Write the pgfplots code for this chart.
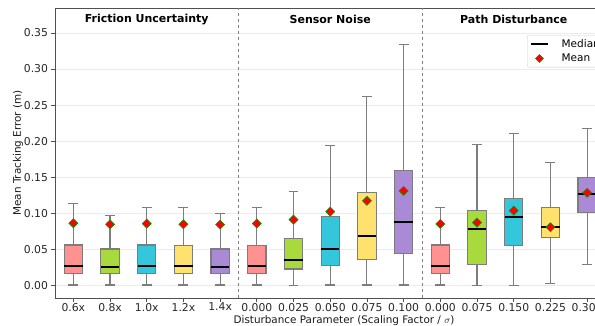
\documentclass[border=0pt]{standalone}
\usepackage{pgfplots}
\pgfplotsset{compat=1.18}
\usepgfplotslibrary{statistics}
\usepackage{fontspec}
\setmainfont{DejaVu Sans}
\definecolor{cA}{RGB}{255,145,145}
\definecolor{cB}{RGB}{168,218,62}
\definecolor{cC}{RGB}{52,198,218}
\definecolor{cD}{RGB}{255,226,110}
\definecolor{cE}{RGB}{170,137,214}
\definecolor{frame}{RGB}{80,80,80}
\definecolor{whisk}{RGB}{125,125,125}
\newcommand{\bx}[7]{\addplot[forget plot, draw=whisk, line width=1.1pt, fill=#7,
  boxplot prepared={draw direction=y, draw position=#1, lower whisker=#2, lower quartile=#3, median=#4,
  upper quartile=#5, upper whisker=#6, box extend=0.5, whisker extend=0.27,
  every median/.style={draw=black, line width=2pt},
  every box/.style={draw=whisk, line width=1.1pt, fill=#7}}] coordinates {};}
\begin{document}
\begin{tikzpicture}
\begin{axis}[
  at={(55pt,27pt)}, anchor=south west,
  scale only axis, width=578pt, height=290pt,
  xmin=-0.5, xmax=15.25, ymin=-0.017, ymax=0.3845,
  axis line style={frame, line width=0.9pt},
  tick pos=left, tick align=outside, major tick length=3.5pt,
  tick style={frame, line width=0.8pt},
  xtick={0,1,2,3,4,5,6,7,8,9,10,11,12,13,14},
  xticklabels={0.6x,0.8x,1.0x,1.2x,1.4x,0.000,0.025,0.050,0.075,0.100,0.000,0.075,0.150,0.225,0.300},
  ytick={0,0.05,0.1,0.15,0.2,0.25,0.3,0.35},
  yticklabel style={/pgf/number format/.cd, fixed, fixed zerofill, precision=2, assume math mode=true},
  ticklabel style={font=\fontsize{10.8}{12}\selectfont, text=black!85},
  xticklabel style={yshift=2pt},
  ymajorgrids, grid style={black!8, line width=0.6pt},
  ylabel={Mean Tracking Error (m)},
  xlabel={Disturbance Parameter (Scaling Factor / $\sigma$)},
  label style={font=\fontsize{10.4}{13}\selectfont, text=black!90},
  ylabel style={yshift=-6pt},
  xlabel style={yshift=2.5pt},
  legend style={at={(0.8166,0.906)}, anchor=north west, draw=black!20, rounded corners=2pt,
    font=\fontsize{10.5}{12}\selectfont, inner xsep=3pt, inner ysep=2pt, row sep=1pt,
    column sep=11pt},
  legend cell align=left,
  clip=false,
]
\addplot[forget plot, gray, dashed, line width=0.8pt] coordinates {(4.5,-0.017) (4.5,0.3845)};
\addplot[forget plot, gray, dashed, line width=0.8pt] coordinates {(9.5,-0.017) (9.5,0.3845)};
\bx{0}{0.001}{0.0172}{0.0275}{0.0564}{0.1143}{cA}
\bx{1}{0.001}{0.0172}{0.0260}{0.0509}{0.0967}{cB}
\bx{2}{0.001}{0.0172}{0.0275}{0.0564}{0.1087}{cC}
\bx{3}{0.001}{0.0172}{0.0269}{0.0555}{0.1087}{cD}
\bx{4}{0.001}{0.0172}{0.0260}{0.0509}{0.1004}{cE}
\bx{5}{0.001}{0.0172}{0.0277}{0.0560}{0.1080}{cA}
\bx{6}{0.000}{0.0232}{0.0356}{0.0657}{0.1300}{cB}
\bx{7}{0.001}{0.0283}{0.0509}{0.0953}{0.1940}{cC}
\bx{8}{0.001}{0.0366}{0.0690}{0.1286}{0.2617}{cD}
\bx{9}{0.001}{0.0444}{0.0888}{0.1600}{0.3334}{cE}
\bx{10}{0.001}{0.0172}{0.0277}{0.0564}{0.1080}{cA}
\bx{11}{0.000}{0.0291}{0.0782}{0.1040}{0.1950}{cB}
\bx{12}{0.000}{0.0555}{0.0948}{0.1203}{0.2104}{cC}
\bx{13}{0.003}{0.0662}{0.0810}{0.1080}{0.1710}{cD}
\bx{14}{0.030}{0.1018}{0.1276}{0.1500}{0.2173}{cE}
\addplot[forget plot, only marks, mark=square*, mark size=3.2pt,
  mark options={rotate=45, fill=red, draw=green!60!black, line width=0.6pt}] coordinates {
(0,0.0865) (1,0.0851) (2,0.0860) (3,0.0851) (4,0.0846)
(5,0.0860) (6,0.0915) (7,0.1026) (8,0.1175) (9,0.1313)
(10,0.0856) (11,0.0874) (12,0.1040) (13,0.0810) (14,0.1286)};
\addlegendimage{black, line width=1.4pt}
\addlegendentry{Median}
\addlegendimage{only marks, mark=square*, mark size=2.8pt, mark options={rotate=45, fill=red, draw=green!60!black, line width=0.6pt}}
\addlegendentry{Mean}
\node[font=\bfseries\fontsize{11}{13}\selectfont] at (axis cs:2,0.3685) {Friction Uncertainty};
\node[font=\bfseries\fontsize{11}{13}\selectfont] at (axis cs:7,0.3685) {Sensor Noise};
\node[font=\bfseries\fontsize{11}{13}\selectfont] at (axis cs:12,0.3685) {Path Disturbance};
\end{axis}
\pgfresetboundingbox
\useasboundingbox (0,0) rectangle (595pt,325pt);
\end{tikzpicture}
\end{document}
